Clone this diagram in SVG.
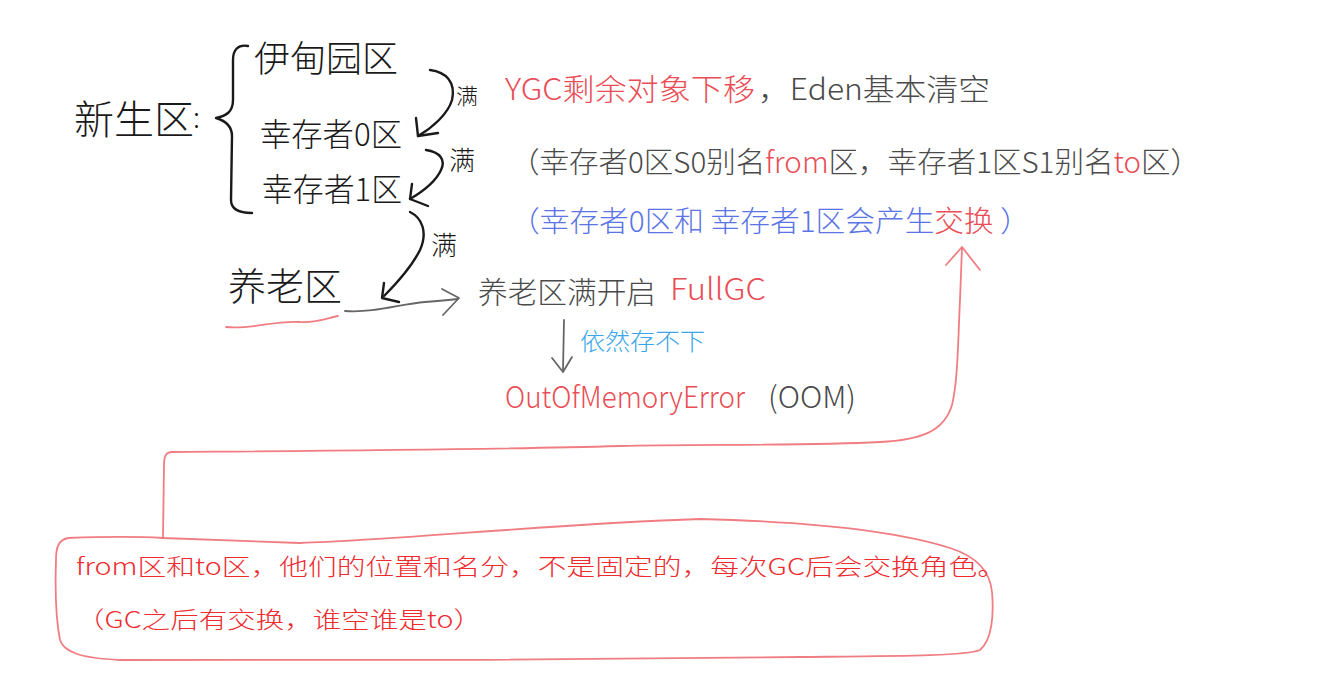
<svg xmlns="http://www.w3.org/2000/svg" width="1321" height="675" viewBox="0 0 1321 675">
<style>
.hw{font-family:"Noto Sans CJK SC","Noto Sans",sans-serif;}
.ink{fill:#1a1a1a;}
.gray{fill:#4a4a4a;}
.red{fill:#ea4d55;}
.blue{fill:#5b74e6;}
.cyan{fill:#3aa6ea;}
.typed{font-family:"Noto Sans CJK SC","Noto Sans",sans-serif;fill:#ee2b2f;font-size:23px;font-weight:300;}
.sk{fill:none;stroke:#1a1a1a;stroke-width:2.4;stroke-linecap:round;stroke-linejoin:round;}
.skg{fill:none;stroke:#666;stroke-width:1.8;stroke-linecap:round;stroke-linejoin:round;}
.skr{fill:none;stroke:#ee6f74;stroke-width:1.8;stroke-linecap:round;stroke-linejoin:round;opacity:0.9;}
</style>
<rect width="1321" height="675" fill="#ffffff"/>

<g id="young">
<text class="hw ink" x="74" y="134" font-size="40" font-weight="300">新生区</text>
<text class="hw ink" x="193" y="128" font-size="28" font-weight="300">:</text>
</g>
<g id="brace"><path class="sk" d="M248,46 C238,44 233,50 233,60 L233,100 C233,112 226,116 216,118 C226,121 232,126 232,136 L231,200 C231,209 238,213 252,213"/></g>
<g id="eden"><text class="hw ink" x="254" y="72" font-size="36" font-weight="300">伊甸园区</text></g>
<g id="s0"><text class="hw ink" x="260" y="146" font-size="32" font-weight="300" textLength="142" lengthAdjust="spacingAndGlyphs">幸存者0区</text></g>
<g id="s1"><text class="hw ink" x="262" y="201" font-size="32" font-weight="300" textLength="140" lengthAdjust="spacingAndGlyphs">幸存者1区</text></g>
<g id="old">
<text class="hw ink" x="228" y="300" font-size="38" font-weight="300">养老区</text>
<path class="skr" d="M226,327 C250,330 275,320 300,322 C318,323 330,317 338,316"/>
</g>

<g id="connectors">
<path class="sk" d="M430,70 C446,72 456,82 452,100 C448,114 432,128 418,136"/>
<path class="sk" d="M416,118 L418,136 L438,133"/>
<text class="hw ink" x="456" y="104" font-size="22" font-weight="300">满</text>

<path class="sk" d="M426,150 C440,152 446,160 441,170 C436,181 422,192 410,199"/>
<path class="sk" d="M412,184 L410,199 L428,206"/>
<text class="hw ink" x="449" y="170" font-size="26" font-weight="300">满</text>

<path class="sk" d="M410,212 C422,218 428,232 420,250 C412,266 398,282 384,296"/>
<path class="sk" d="M384,283 L382,298 L399,302"/>
<text class="hw ink" x="431" y="255" font-size="26" font-weight="300">满</text>

<path class="skg" d="M345,311 C375,313 400,304 425,302 C440,301 450,300 458,299"/>
<path class="skg" d="M442,289 L459,298 L443,315"/>

<path class="skg" d="M564,320 L563,370"/>
<path class="skg" d="M552,358 L563,372 L572,357"/>

<path class="skr" d="M962,248 L960,300 C958,340 958,380 952,405 C944,432 920,440 880,442 C800,446 700,444 620,446 C480,450 300,451 172,452 C166,452 164,456 164,465 L163,538"/>
<path class="skr" d="M946,265 L962,247 L980,270"/>
<path class="skr" d="M163,538 C130,536 95,537 68,538 C58,540 56,548 56,560 C55,590 56,620 60,640 C64,652 80,658 120,660 C300,661 600,660 800,657 C900,656 965,656 980,650 C992,640 994,615 992,592 C990,570 975,556 950,548 C900,532 820,522 700,519 C550,524 400,540 300,543 C240,541 200,539 163,538"/>
</g>

<g id="note-ygc">
<text class="hw red" x="505" y="100" font-size="30" font-weight="300" textLength="250" lengthAdjust="spacingAndGlyphs">YGC剩余对象下移</text>
<text class="hw gray" x="758" y="100" font-size="30" font-weight="300" textLength="232" lengthAdjust="spacingAndGlyphs">，Eden基本清空</text>
</g>
<g id="note-alias">
<text class="hw gray" x="510" y="173" font-size="29" font-weight="300" textLength="690" lengthAdjust="spacingAndGlyphs">（幸存者0区S0别名<tspan class="red">from</tspan>区，幸存者1区S1别名<tspan class="red">to</tspan>区）</text>
</g>
<g id="note-swap">
<text class="hw blue" x="510" y="232" font-size="29" font-weight="300" textLength="520" lengthAdjust="spacingAndGlyphs">（幸存者0区和 幸存者1区会产生<tspan class="red">交换</tspan> ）</text>
</g>
<g id="fullgc">
<text class="hw gray" x="478" y="303" font-size="30" font-weight="300" textLength="178" lengthAdjust="spacingAndGlyphs">养老区满开启</text>
<text class="hw red" x="670" y="300" font-size="30" font-weight="300" textLength="96" lengthAdjust="spacingAndGlyphs">FullGC</text>
</g>
<g id="still"><text class="hw cyan" x="580" y="350" font-size="24" font-weight="300" textLength="125" lengthAdjust="spacingAndGlyphs">依然存不下</text></g>
<g id="oom">
<text class="hw red" x="505" y="408" font-size="30" font-weight="300" textLength="240" lengthAdjust="spacingAndGlyphs">OutOfMemoryError</text>
<text class="hw gray" x="768" y="408" font-size="30" font-weight="300" textLength="88" lengthAdjust="spacingAndGlyphs">(OOM)</text>
</g>

<g id="note-box">
<text class="typed" x="76" y="575" textLength="930" lengthAdjust="spacingAndGlyphs">from区和to区，他们的位置和名分，不是固定的，每次GC后会交换角色。</text>
<text class="typed" x="76" y="628" textLength="406" lengthAdjust="spacingAndGlyphs">（GC之后有交换，谁空谁是to）</text>
</g>
</svg>
